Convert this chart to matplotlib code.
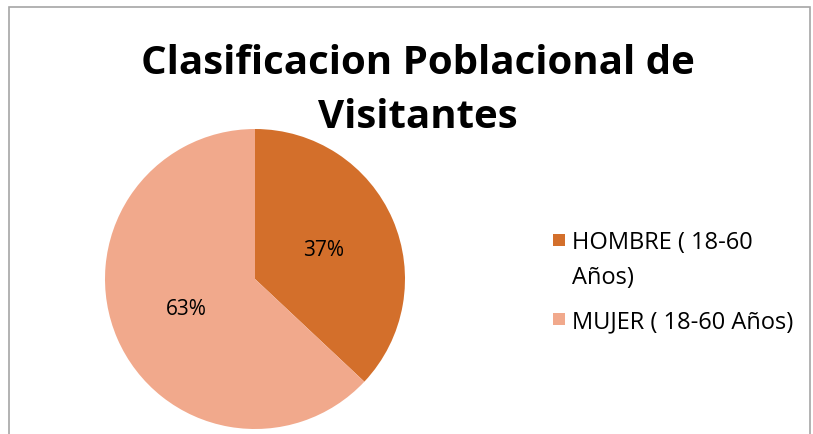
import matplotlib.pyplot as plt
from matplotlib.patches import Rectangle

# data
categories = ["HOMBRE ( 18-60\nAños)", "MUJER ( 18-60 Años)"]
shares = [37, 63]
colors = ["#D36F2B", "#F1A98C"]
title = "Clasificacion Poblacional de\nVisitantes"

plt.rcParams['font.family'] = ['Open Sans', 'DejaVu Sans']

W, H = 813, 435
fig = plt.figure(figsize=(W / 100, H / 100), dpi=100)

# chart frame
fig.patches.append(Rectangle((9 / W, -0.1), 801 / W, 1.1 - 8 / H,
                             transform=fig.transFigure, fill=False,
                             edgecolor='#A6A6A6', linewidth=1.2))

# pie: center (255, 280) px, radius 150 px
ax = fig.add_axes([105 / W, 5 / H, 300 / W, 300 / H])
wedges, texts, autotexts = ax.pie(shares, colors=colors, startangle=90,
                                  counterclock=False, autopct='%1.0f%%',
                                  pctdistance=0.5, radius=1.0,
                                  textprops={'fontsize': 15, 'color': '#000000'})
ax.set_xlim(-1, 1)
ax.set_ylim(-1, 1)
ax.set_aspect('equal')

fig.text(418 / W, 1 - 91 / H, title, ha='center', va='center',
         fontsize=29, fontweight='bold', linespacing=1.5)

# legend, square aligned with the first text line like the original
legend_y = [241, 320]
for lab, col, y in zip(categories, colors, legend_y):
    fig.patches.append(Rectangle((553 / W, 1 - (y + 6) / H), 12 / W, 12 / H,
                                 transform=fig.transFigure, facecolor=col,
                                 edgecolor='none'))
    fig.text(572 / W, 1 - (y - 10) / H, lab, ha='left', va='top',
             fontsize=17, linespacing=1.6)

fig.savefig('out.png', dpi=100)
